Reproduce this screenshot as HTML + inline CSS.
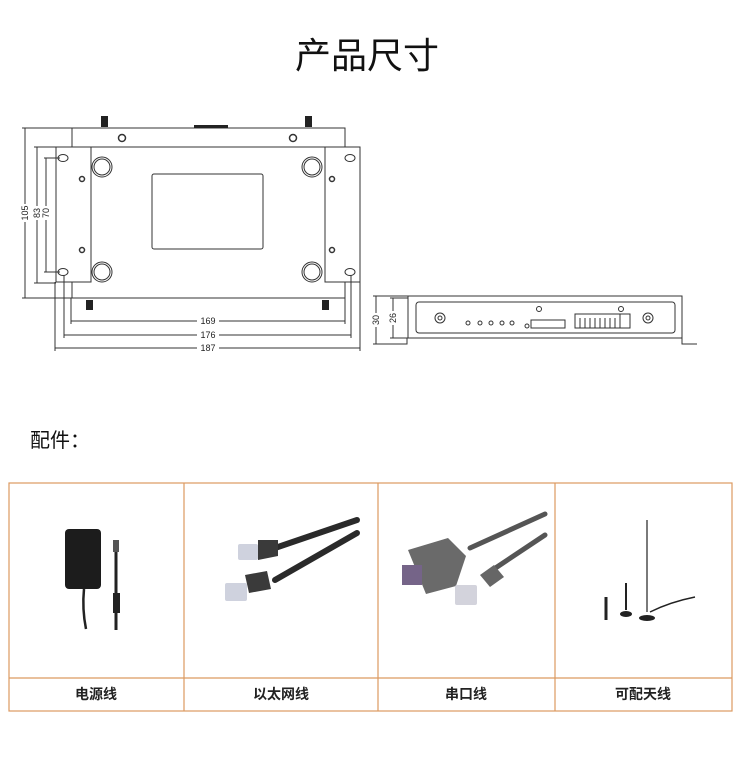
<!DOCTYPE html>
<html><head><meta charset="utf-8"><style>
body{margin:0;background:#fff;width:750px;height:773px;overflow:hidden;font-family:"Liberation Sans","Noto Sans CJK SC",sans-serif;}
svg{position:absolute;left:0;top:0}
</style></head><body>
<svg width="750" height="773" viewBox="0 0 750 773" xmlns="http://www.w3.org/2000/svg">
<text x="367" y="68" font-size="36" text-anchor="middle" fill="#111" font-family="Liberation Sans, Noto Sans CJK SC, sans-serif">产品尺寸</text>
<g stroke="#333" fill="none" stroke-width="1">
<!-- top view -->
<rect x="72" y="128" width="273" height="170" fill="#fff"/>
<line x1="72" y1="147" x2="345" y2="147"/>
<rect x="56" y="147" width="35" height="135" fill="#fff"/>
<rect x="325" y="147" width="35" height="135" fill="#fff"/>
<rect x="152" y="174" width="111" height="75" rx="2"/>
<ellipse cx="63" cy="158" rx="5" ry="3.5"/><ellipse cx="63" cy="272" rx="5" ry="3.5"/>
<ellipse cx="350" cy="158" rx="5" ry="3.5"/><ellipse cx="350" cy="272" rx="5" ry="3.5"/>
<circle cx="102" cy="167" r="10"/><circle cx="102" cy="167" r="8"/>
<circle cx="102" cy="272" r="10"/><circle cx="102" cy="272" r="8"/>
<circle cx="312" cy="167" r="10"/><circle cx="312" cy="167" r="8"/>
<circle cx="312" cy="272" r="10"/><circle cx="312" cy="272" r="8"/>
<circle cx="82" cy="179" r="2.5" stroke-width="1.5"/><circle cx="82" cy="250" r="2.5" stroke-width="1.5"/>
<circle cx="332" cy="179" r="2.5" stroke-width="1.5"/><circle cx="332" cy="250" r="2.5" stroke-width="1.5"/>
<circle cx="122" cy="138" r="3.5" stroke-width="1.5"/><circle cx="293" cy="138" r="3.5" stroke-width="1.5"/>
<!-- dims -->
<line x1="25" y1="128" x2="25" y2="298"/><line x1="22" y1="128" x2="72" y2="128"/><line x1="22" y1="298" x2="72" y2="298"/>
<line x1="37" y1="147" x2="37" y2="283"/><line x1="34" y1="147" x2="56" y2="147"/><line x1="34" y1="283" x2="56" y2="283"/>
<line x1="46" y1="158" x2="46" y2="272"/><line x1="44" y1="158" x2="60" y2="158"/><line x1="44" y1="272" x2="60" y2="272"/>
<line x1="71" y1="321" x2="345" y2="321"/><line x1="71" y1="298" x2="71" y2="324"/><line x1="345" y1="298" x2="345" y2="324"/>
<line x1="64" y1="335" x2="351" y2="335"/><line x1="64" y1="275" x2="64" y2="338"/><line x1="351" y1="275" x2="351" y2="338"/>
<line x1="55" y1="348" x2="360" y2="348"/><line x1="55" y1="282" x2="55" y2="351"/><line x1="360" y1="282" x2="360" y2="351"/>
<!-- front view -->
<rect x="408" y="296" width="274" height="42" fill="#fff"/>
<rect x="416" y="302" width="259" height="31" rx="3"/>
<circle cx="440" cy="318" r="5"/><circle cx="440" cy="318" r="2"/>
<circle cx="648" cy="318" r="5"/><circle cx="648" cy="318" r="2"/>
<circle cx="468" cy="323" r="2"/><circle cx="480" cy="323" r="2"/><circle cx="491" cy="323" r="2"/><circle cx="502" cy="323" r="2"/><circle cx="512" cy="323" r="2"/>
<circle cx="527" cy="326" r="2"/><circle cx="539" cy="309" r="2.5"/><circle cx="621" cy="309" r="2.5"/>
<rect x="531" y="320" width="34" height="8"/>
<rect x="575" y="314" width="55" height="14"/>
<path d="M580 318v10M585 318v10M590 318v10M595 318v10M600 318v10M605 318v10M610 318v10M615 318v10M620 314v14"/>
<path d="M392 344h15v-6M682 338v6h15"/>
<line x1="376" y1="296" x2="376" y2="344"/><line x1="373" y1="296" x2="408" y2="296"/><line x1="373" y1="344" x2="392" y2="344"/>
<line x1="393" y1="298" x2="393" y2="338"/><line x1="390" y1="298" x2="408" y2="298"/><line x1="390" y1="338" x2="408" y2="338"/>
</g>
<g fill="#222">
<rect x="101" y="116" width="7" height="11"/><rect x="305" y="116" width="7" height="11"/>
<rect x="86" y="300" width="7" height="10"/><rect x="322" y="300" width="7" height="10"/>
<rect x="194" y="125" width="34" height="3"/>
</g>
<g font-size="9" fill="#222" font-family="Liberation Sans, sans-serif">
<rect x="197" y="315" width="22" height="10" fill="#fff"/><text x="208" y="324" text-anchor="middle">169</text>
<rect x="197" y="329" width="22" height="10" fill="#fff"/><text x="208" y="338" text-anchor="middle">176</text>
<rect x="197" y="342" width="22" height="10" fill="#fff"/><text x="208" y="351" text-anchor="middle">187</text>
<g transform="translate(28,213) rotate(-90)"><rect x="-9" y="-8" width="18" height="10" fill="#fff"/><text text-anchor="middle">105</text></g>
<g transform="translate(40,213) rotate(-90)"><rect x="-7" y="-8" width="14" height="10" fill="#fff"/><text text-anchor="middle">83</text></g>
<g transform="translate(49,213) rotate(-90)"><rect x="-7" y="-8" width="14" height="10" fill="#fff"/><text text-anchor="middle">70</text></g>
<g transform="translate(379,320) rotate(-90)"><rect x="-7" y="-8" width="14" height="10" fill="#fff"/><text text-anchor="middle">30</text></g>
<g transform="translate(396,318) rotate(-90)"><rect x="-7" y="-8" width="14" height="10" fill="#fff"/><text text-anchor="middle">26</text></g>
</g>
<text x="30" y="447" font-size="20" fill="#111" font-family="Liberation Sans, Noto Sans CJK SC, sans-serif">配件：</text>
<!-- table -->
<g stroke="#dc9a60" stroke-width="1.2" fill="none">
<rect x="9" y="483" width="723" height="228"/>
<line x1="9" y1="678" x2="732" y2="678"/>
<line x1="184" y1="483" x2="184" y2="711"/><line x1="378" y1="483" x2="378" y2="711"/><line x1="555" y1="483" x2="555" y2="711"/>
</g>
<g font-size="14" font-weight="bold" fill="#222" text-anchor="middle" font-family="Liberation Sans, Noto Sans CJK SC, sans-serif">
<text x="96" y="699">电源线</text><text x="281" y="699">以太网线</text><text x="466" y="699">串口线</text><text x="643" y="699">可配天线</text>
</g>
<!-- adapter -->
<rect x="65" y="529" width="36" height="60" rx="4" fill="#1c1c1c"/>
<path d="M84 589 q-2 20 2 40" stroke="#222" stroke-width="2.5" fill="none"/>
<path d="M116 545 v85" stroke="#222" stroke-width="3" fill="none"/>
<rect x="113" y="593" width="7" height="20" fill="#222"/>
<rect x="113" y="540" width="6" height="12" fill="#555"/>
<!-- ethernet -->
<g stroke="#2a2a2a" stroke-width="6" fill="none" stroke-linecap="round">
<path d="M275 548 L357 520"/><path d="M275 580 L357 533"/>
</g>
<g fill="#3a3a3a"><path d="M258 540 l20 0 l0 16 l-20 4z"/><path d="M245 575 l22 -4 l4 18 l-22 4z"/></g>
<g fill="#cfd2de"><rect x="238" y="544" width="20" height="16" rx="2"/><rect x="225" y="583" width="22" height="18" rx="2"/></g>
<!-- serial -->
<g stroke="#555" stroke-width="5" fill="none" stroke-linecap="round">
<path d="M470 548 L545 514"/><path d="M485 575 L545 535"/>
</g>
<path d="M408 550 l40 -12 l18 18 l-10 30 l-30 8 z" fill="#6a6a6a"/>
<rect x="402" y="565" width="20" height="20" fill="#756488"/>
<path d="M480 575 l14 -10 l10 12 l-14 10z" fill="#666"/>
<rect x="455" y="585" width="22" height="20" rx="2" fill="#d3d3dc"/>
<!-- antenna -->
<g stroke="#222" fill="none">
<line x1="647" y1="520" x2="647" y2="612" stroke-width="1.2"/>
<line x1="626" y1="583" x2="626" y2="610" stroke-width="2"/>
<line x1="606" y1="597" x2="606" y2="620" stroke-width="3"/>
<path d="M650 612 q20 -10 45 -15" stroke-width="1.5"/>
</g>
<ellipse cx="647" cy="618" rx="8" ry="3" fill="#222"/>
<ellipse cx="626" cy="614" rx="6" ry="3" fill="#222"/>
</svg>
</body></html>
